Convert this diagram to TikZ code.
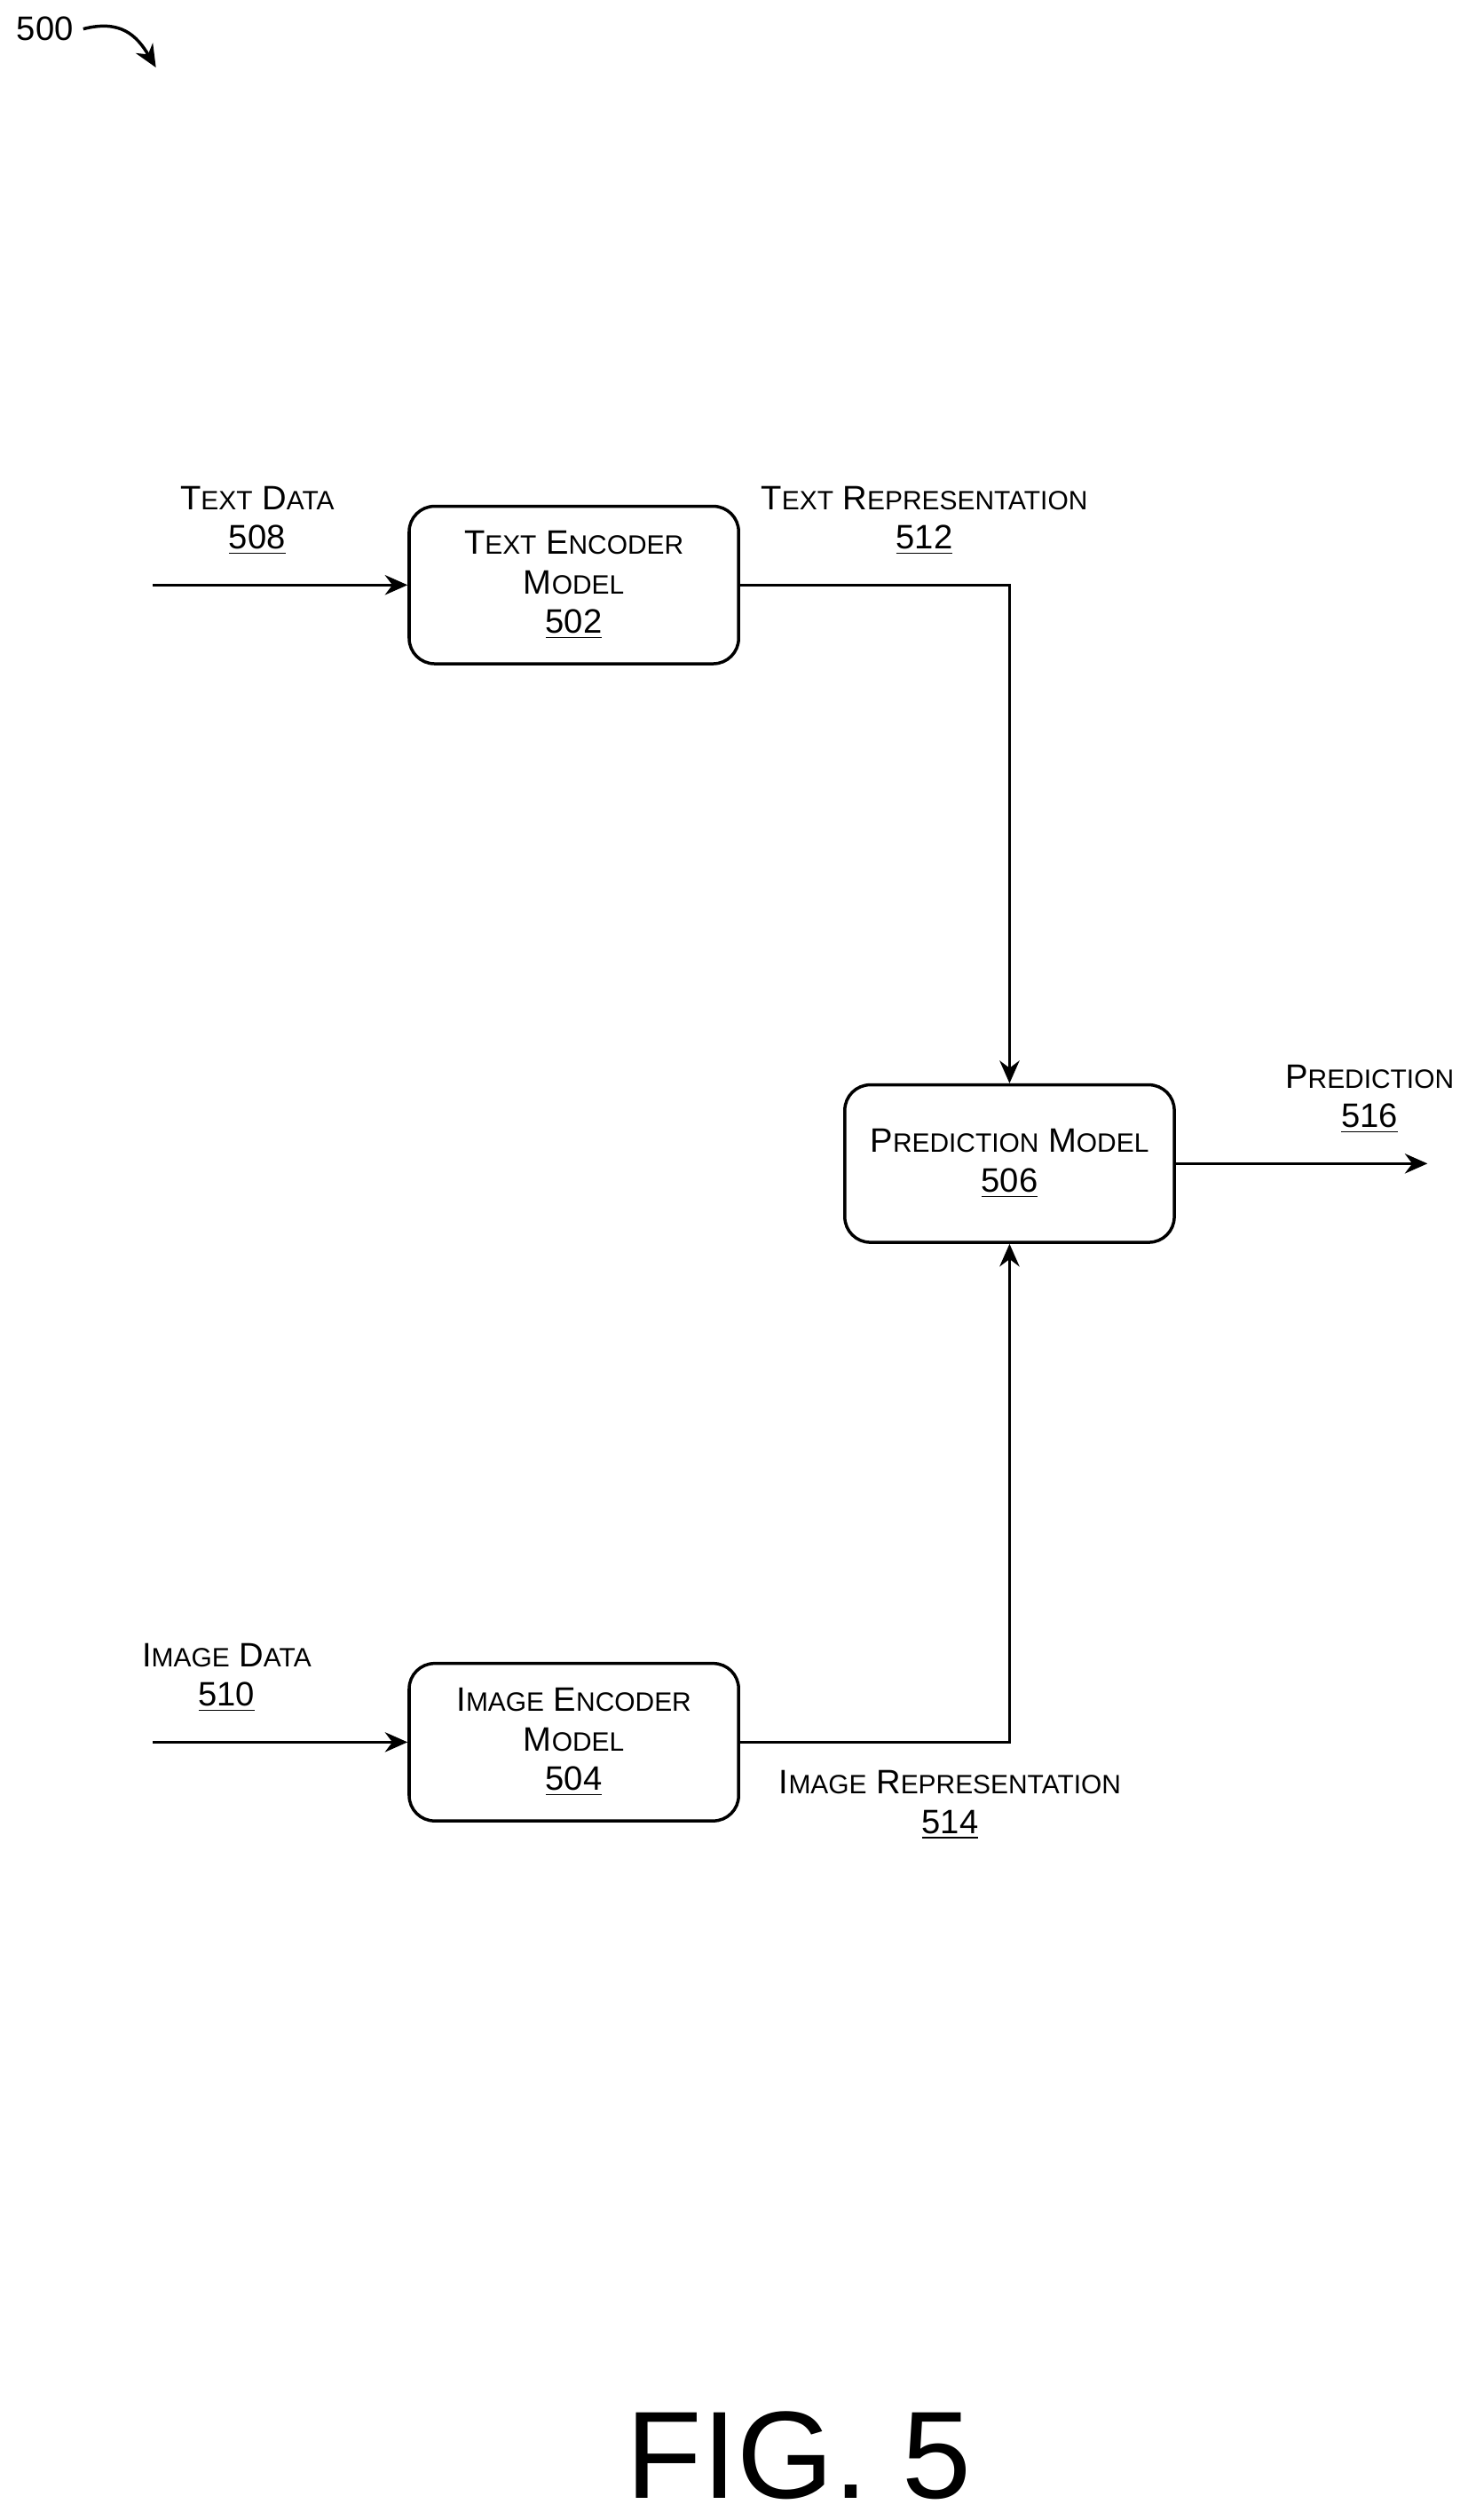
\documentclass[tikz,border=0pt]{standalone}
\usepackage{fontspec}
\setmainfont{Liberation Sans}
\usetikzlibrary{arrows.meta,positioning}
\newcommand{\scw}[2]{{\fontsize{12}{14}\selectfont #1}{\fontsize{9.4}{14}\selectfont #2}}
\tikzset{
  blk/.style={draw,line width=1.1pt,rounded corners=9pt,minimum width=4.1cm,minimum height=1.96cm,align=center,font=\fontsize{12}{14}\selectfont},
  lbl/.style={align=center,font=\fontsize{12}{14}\selectfont},
  flow/.style={line width=1.1pt,-{Stealth[length=8pt,width=7pt]}}
}
\begin{document}
\begin{tikzpicture}[x=0.02cm,y=-0.02cm]
        \useasboundingbox (0,0) rectangle (913,1568);
        % Bloques
        \node[blk] (txtenc) at (357,364) {\scw{T}{EXT} \scw{E}{NCODER}\\\scw{M}{ODEL}\\\underline{502}};
        \node[blk] (pred) at (628,724) {\scw{P}{REDICTION} \scw{M}{ODEL}\\\underline{506}};
        \node[blk] (imgenc) at (357,1084) {\scw{I}{MAGE} \scw{E}{NCODER}\\\scw{M}{ODEL}\\\underline{504}};
        % Puntos libres
        \coordinate (txtin) at (95,364);
        \coordinate (imgin) at (95,1084);
        \coordinate (predout) at (888,724);
        % Conectores
        \draw[flow] (txtin) -- (txtenc);
        \draw[flow] (imgin) -- (imgenc);
        \draw[flow] (txtenc.east) -| (pred.north);
        \draw[flow] (imgenc.east) -| (pred.south);
        \draw[flow] (pred) -- (predout);
        % Leyendas
        \node[lbl] (txtdata) at (160,324) {\scw{T}{EXT} \scw{D}{ATA}\\\underline{508}};
        \node[lbl] (txtrep) at (575,324) {\scw{T}{EXT} \scw{R}{EPRESENTATION}\\\underline{512}};
        \node[lbl] (predlbl) at (852,684) {\scw{P}{REDICTION}\\\underline{516}};
        \node[lbl] (imgdata) at (141,1044) {\scw{I}{MAGE} \scw{D}{ATA}\\\underline{510}};
        \node[lbl] (imgrep) at (591,1123) {\scw{I}{MAGE} \scw{R}{EPRESENTATION}\\\underline{514}};
        % Figura
        \node[lbl] (fignum) at (28,18) {500};
        \coordinate (figtip) at (97,42);
        \draw[flow] (fignum.east) .. controls (75,12) and (85,22) .. (figtip);
        \node[font=\fontsize{44}{50}\selectfont] (figlbl) at (497,1528) {FIG. 5};
\end{tikzpicture}
\end{document}
